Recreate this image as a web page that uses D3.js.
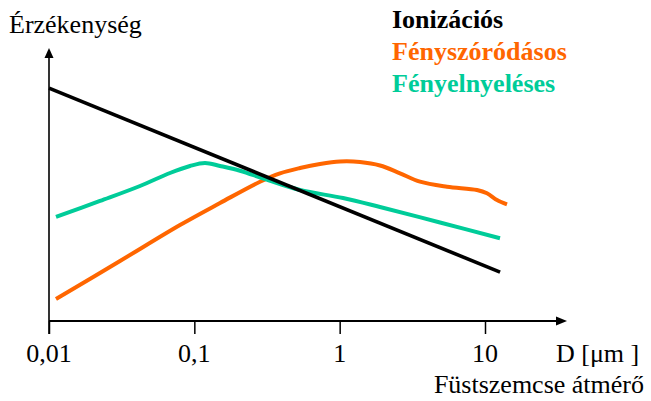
<!DOCTYPE html>
<html><head><meta charset="utf-8">
<script src="https://cdn.jsdelivr.net/npm/d3@7"></script>
</head>
<body style="margin:0"><svg id="c" width="651" height="401"></svg>
<script>
// ---- data ----
const tickValues = [0.01, 0.1, 1, 10];
const tickLabels = ["0,01", "0,1", "1", "10"];
const seriesNames = ["Ionizációs", "Fényszóródásos", "Fényelnyeléses"];
const seriesColors = ["#000000", "#FF6600", "#00CC99"];

const ionD = [0.01, 12.7];
const ionS = [85.3, 17.9];

const scatD = [0.01117, 0.0308, 0.07967, 0.1502, 0.283, 0.3886, 0.5334, 0.7323, 1.0053, 1.3801, 1.8947, 2.6012, 3.5711, 5.4776, 8.8071, 10.322, 12.092, 14.169];
const scatS = [8.06, 21.98, 35.16, 43.22, 51.03, 54.10, 56.04, 57.51, 58.42, 58.24, 56.96, 54.10, 51.03, 49.19, 47.99, 46.78, 44.32, 42.75];

const absD = [0.01117, 0.02244, 0.04228, 0.06802, 0.09336, 0.1184, 0.1502, 0.2062, 0.3063, 0.5334, 1.0542, 1.8947, 4.9025, 12.682];
const absS = [38.10, 43.96, 49.45, 54.21, 56.78, 57.88, 56.78, 55.05, 52.01, 47.99, 45.05, 41.76, 36.08, 30.29];

// ---- chart ----
const FONT = "Liberation Serif";
const svg = d3.select("#c");
const x = d3.scaleLog().domain([0.01, 10]).range([49, 485]);
const y = d3.scaleLinear().domain([0, 100]).range([321, 48]);

function txt(xp, yp, s, anchor, bold, color) {
  const t = svg.append("text").attr("x", xp).attr("y", yp)
    .attr("font-size", 26).attr("font-family", FONT)
    .attr("fill", color || "#000").text(s);
  if (anchor) t.attr("text-anchor", anchor);
  if (bold) t.attr("font-weight", "bold");
  return t;
}
txt(9, 33, "Érzékenység");
txt(556, 362, "D [μm ]");
txt(644, 393, "Füstszemcse átmérő", "end");
tickValues.forEach((v, i) => txt(x(v), 362, tickLabels[i], "middle"));

// axes lines
svg.append("line").attr("x1", x(0.01)).attr("x2", x(0.01)).attr("y1", 334).attr("y2", 56)
  .attr("stroke", "#000").attr("stroke-width", 1.6);
svg.append("path").attr("d", `M${x(0.01)},${y(100)} L${x(0.01)-4.5},${y(100)+10} L${x(0.01)+4.5},${y(100)+10} Z`).attr("fill", "#000");

svg.append("line").attr("x1", x(0.01)).attr("x2", 558).attr("y1", y(0)).attr("y2", y(0))
  .attr("stroke", "#000").attr("stroke-width", 2.2);
svg.append("path").attr("d", `M567,${y(0)} L556,${y(0)-4.5} L556,${y(0)+4.5} Z`).attr("fill", "#000");

const ax = svg.append("g").attr("transform", `translate(0,${y(0)})`)
  .call(d3.axisBottom(x).tickValues(tickValues).tickSize(13).tickFormat(""));
ax.select(".domain").remove();
ax.selectAll(".tick line").attr("stroke", "#000").attr("stroke-width", 1.5);

// lines
const line = d3.line().x(d => x(d[0])).y(d => y(d[1])).curve(d3.curveCatmullRom.alpha(0.5));
const series = [
  d3.zip(ionD, ionS),
  d3.zip(scatD, scatS),
  d3.zip(absD, absS)
];
const widths = [3.6, 4, 4];
[1, 2, 0].forEach(i => {
  svg.append("path").datum(series[i]).attr("d", line)
    .attr("fill", "none").attr("stroke", seriesColors[i]).attr("stroke-width", widths[i])
    .attr("stroke-linejoin", "round");
});

// legend
const legY = [28, 60, 92];
seriesNames.forEach((n, i) => {
  txt(392, legY[i], n, null, true, seriesColors[i]);
});
</script></body></html>
